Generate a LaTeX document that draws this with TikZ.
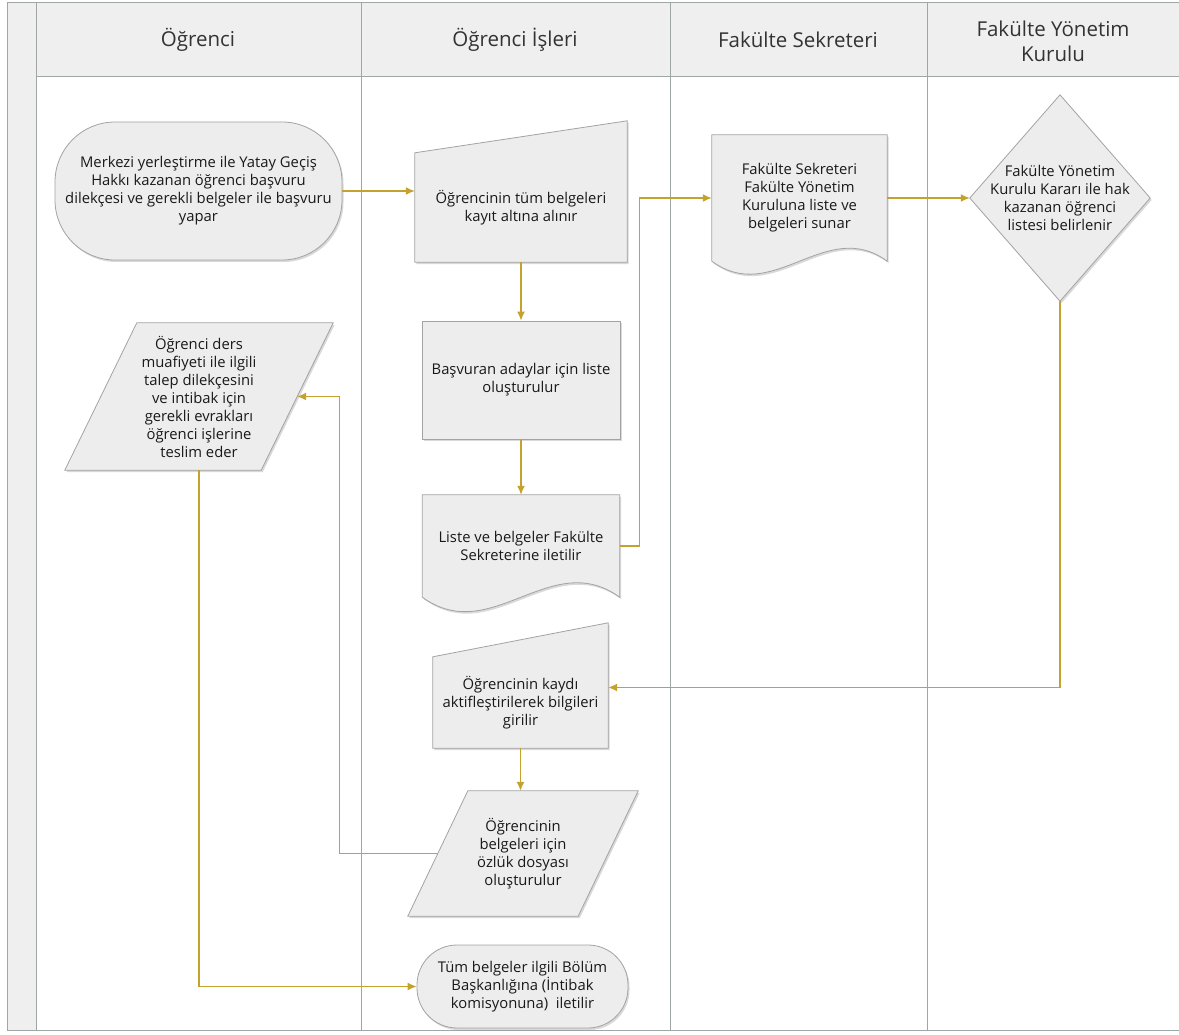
\documentclass[tikz,border=0pt]{standalone}
\usepackage{fontspec}
\setmainfont{Open Sans}
\usetikzlibrary{arrows.meta,calc,backgrounds,shadows}
\pgfdeclarelayer{lanes}
\pgfsetlayers{lanes,background,main}
\definecolor{flowgold}{HTML}{C4A22E}
\definecolor{shapegray}{HTML}{EDEDED}
\definecolor{edgegray}{HTML}{A3A3A3}
\definecolor{lanegray}{HTML}{9FA6A6}
\definecolor{headgray}{HTML}{EFEFEF}
\tikzset{>={Latex[length=9pt,width=8pt]}}
\tikzset{
  flow/.style = {->, flowgold, line width=1.3pt},
  txt/.style = {align=center, font=\fontsize{14.8}{18}\selectfont, text=black!90},
  boxshade/.style = {fill=shapegray, draw=edgegray, line width=.8pt,
    drop shadow={shadow xshift=1.5pt, shadow yshift=-2pt, opacity=.3}},
  terminal/.style = {txt, boxshade, rounded corners=#1, inner sep=2pt},
  process/.style = {txt, boxshade},
  textbox/.style = {txt, inner sep=0pt},
  lanehead/.style = {align=center, font=\fontsize{20.5}{25}\selectfont, text=black!80}
}

\begin{document}
\begin{tikzpicture}[x=1pt,y=-1pt]
  \useasboundingbox (0,0) rectangle (1179,1035);
  % lanes
  \begin{pgfonlayer}{lanes}
    \fill[headgray] (7,3) rectangle (1186,77);
    \fill[headgray] (7,77) rectangle (36,1030);
    \draw[lanegray,line width=1pt] (7,3) rectangle (1186,1030);
    \foreach \x in {36,361,670,927}
      \draw[lanegray,line width=1pt] (\x,3) -- (\x,1030);
    \draw[lanegray,line width=1pt] (36,77) -- (1186,77);
  \end{pgfonlayer}
  % lane titles
  \node[lanehead] (hogrenci) at (198,40) {Öğrenci};
  \node[lanehead] (hisleri) at (515,40) {Öğrenci İşleri};
  \node[lanehead] (hsekreter) at (798,40) {Fakülte Sekreteri};
  \node[lanehead] (hkurul) at (1053,41) {Fakülte Yönetim\\Kurulu};
  % steps
  \node[terminal=60pt, minimum width=287pt, minimum height=138pt] (basvuru) at (198.5,191)
    {Merkezi yerleştirme ile Yatay Geçiş\\Hakkı kazanan öğrenci başvuru\\dilekçesi ve gerekli belgeler ile başvuru\\yapar};
  \node[textbox, minimum width=212pt, minimum height=109pt] (kayit) at (521,207.5)
    {Öğrencinin tüm belgeleri\\kayıt altına alınır};
  \node[process, minimum width=198pt, minimum height=118pt] (adaylar) at (521,380)
    {Başvuran adaylar için liste\\oluşturulur};
  \node[textbox, minimum width=197pt, minimum height=102pt] (liste) at (521,546)
    {Liste ve belgeler Fakülte\\Sekreterine iletilir};
  \node[textbox, minimum width=175pt, minimum height=126pt] (sunar) at (799.5,198)
    {Fakülte Sekreteri\\Fakülte Yönetim\\Kuruluna liste ve\\belgeleri sunar};
  \node[textbox, minimum width=180pt, minimum height=206pt] (karar) at (1060,198)
    {Fakülte Yönetim\\Kurulu Kararı ile hak\\kazanan öğrenci\\listesi belirlenir};
  \node[textbox, minimum width=175pt, minimum height=91pt] (aktif) at (520.5,702.5)
    {Öğrencinin kaydı\\aktifleştirilerek bilgileri\\girilir};
  \node[textbox, minimum width=170pt, minimum height=125pt] (ozluk) at (523,853.5)
    {Öğrencinin\\belgeleri için\\özlük dosyası\\oluşturulur};
  \node[textbox, minimum width=196pt, minimum height=147pt] (talep) at (199,396.5)
    {Öğrenci ders\\muafiyeti ile ilgili\\talep dilekçesini\\ve intibak için\\gerekli evrakları\\öğrenci işlerine\\teslim eder};
  \node[terminal=40pt, minimum width=211pt, minimum height=83pt] (iletilir) at (522.5,986.5)
    {Tüm belgeler ilgili Bölüm\\Başkanlığına (İntibak\\komisyonuna)\ \ iletilir};
  % outlines of the drawn shapes
  \begin{pgfonlayer}{background}
    \path[boxshade] (kayit.south west) -- (kayit.south east)
      -- ([yshift=32pt]kayit.north east) -- (kayit.north west) -- cycle;
    \path[boxshade] (aktif.south west) -- (aktif.south east)
      -- ([yshift=34pt]aktif.north east) -- (aktif.north west) -- cycle;
    \path[boxshade] (liste.north west) -- (liste.south west)
      .. controls ($(liste.south west)!.35!(liste.south east)+(0,50)$)
      and ($(liste.south west)!.65!(liste.south east)+(0,-50)$) .. (liste.south east)
      -- (liste.north east) -- cycle;
    \path[boxshade] (sunar.north west) -- (sunar.south west)
      .. controls ($(sunar.south west)!.35!(sunar.south east)+(0,45)$)
      and ($(sunar.south west)!.65!(sunar.south east)+(0,-45)$) .. (sunar.south east)
      -- (sunar.north east) -- cycle;
    \path[boxshade] (karar.north) -- (karar.east) -- (karar.south) -- (karar.west) -- cycle;
    \path[boxshade] ([xshift=-30pt]ozluk.south west) -- ([xshift=-30pt]ozluk.south east)
      -- ([xshift=30pt]ozluk.north east) -- ([xshift=30pt]ozluk.north west) -- cycle;
    \path[boxshade] ([xshift=-36pt]talep.south west) -- ([xshift=-36pt]talep.south east)
      -- ([xshift=36pt]talep.north east) -- ([xshift=36pt]talep.north west) -- cycle;
  \end{pgfonlayer}
  % flow
  \draw[flow] (basvuru.east) -- (basvuru.east -| kayit.west);
  \draw[flow] (kayit.south) -- (adaylar.north);
  \draw[flow] (adaylar.south) -- (liste.north);
  \draw[flow] (liste.east) -- ++(20,0) |- (sunar.west);
  \draw[flow] (sunar.east) -- (karar.west);
  \draw[flow] (karar.south) |- ([yshift=15pt]aktif.east);
  \draw[flow] (aktif.south) -- (aktif.south |- ozluk.north);
  \draw[flow] (ozluk.west) -- ++(-98,0) |- (talep.east);
  \draw[flow] (talep.south) |- (iletilir.west);
\end{tikzpicture}
\end{document}
